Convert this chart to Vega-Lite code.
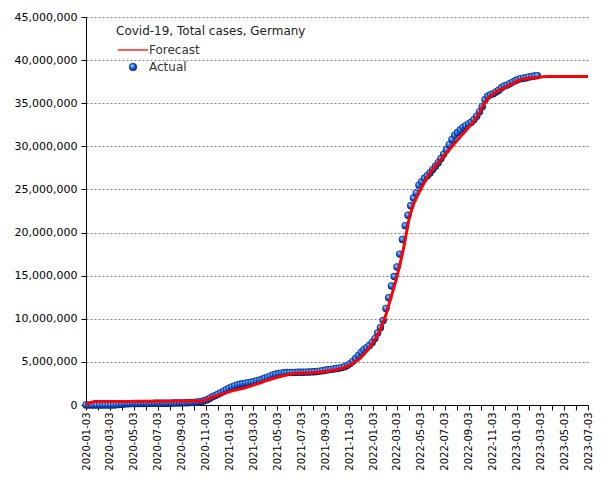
{
  "$schema": "https://vega.github.io/schema/vega-lite/v6.json",
  "width": 502,
  "height": 388,
  "autosize": {"type": "none"},
  "padding": {"left": 86, "top": 17, "right": 17, "bottom": 75},
  "background": "white",
  "config": {
    "view": {"stroke": null},
    "font": "DejaVu Sans",
    "axisY": {"grid": true, "gridColor": "#808080", "gridDash": [2, 2], "gridWidth": 1, "gridOpacity": 1},
    "axisX": {"grid": false}
  },
  "data": {"values": [
    {"date": "2020/01/03", "series": "Actual", "value": 0},
    {"date": "2020/01/10", "series": "Actual", "value": 0},
    {"date": "2020/01/17", "series": "Actual", "value": 0},
    {"date": "2020/01/24", "series": "Actual", "value": 0},
    {"date": "2020/01/31", "series": "Actual", "value": 0},
    {"date": "2020/02/07", "series": "Actual", "value": 0},
    {"date": "2020/02/14", "series": "Actual", "value": 0},
    {"date": "2020/02/21", "series": "Actual", "value": 0},
    {"date": "2020/02/28", "series": "Actual", "value": 100},
    {"date": "2020/03/06", "series": "Actual", "value": 700},
    {"date": "2020/03/13", "series": "Actual", "value": 3600},
    {"date": "2020/03/20", "series": "Actual", "value": 19000},
    {"date": "2020/03/27", "series": "Actual", "value": 50000},
    {"date": "2020/04/03", "series": "Actual", "value": 90000},
    {"date": "2020/04/10", "series": "Actual", "value": 120000},
    {"date": "2020/04/17", "series": "Actual", "value": 140000},
    {"date": "2020/04/24", "series": "Actual", "value": 155000},
    {"date": "2020/05/01", "series": "Actual", "value": 163000},
    {"date": "2020/05/08", "series": "Actual", "value": 170000},
    {"date": "2020/05/15", "series": "Actual", "value": 175000},
    {"date": "2020/05/22", "series": "Actual", "value": 179000},
    {"date": "2020/05/29", "series": "Actual", "value": 182000},
    {"date": "2020/06/05", "series": "Actual", "value": 185000},
    {"date": "2020/06/12", "series": "Actual", "value": 187000},
    {"date": "2020/06/19", "series": "Actual", "value": 190000},
    {"date": "2020/06/26", "series": "Actual", "value": 194000},
    {"date": "2020/07/03", "series": "Actual", "value": 196000},
    {"date": "2020/07/10", "series": "Actual", "value": 199000},
    {"date": "2020/07/17", "series": "Actual", "value": 201000},
    {"date": "2020/07/24", "series": "Actual", "value": 205000},
    {"date": "2020/07/31", "series": "Actual", "value": 210000},
    {"date": "2020/08/07", "series": "Actual", "value": 216000},
    {"date": "2020/08/14", "series": "Actual", "value": 224000},
    {"date": "2020/08/21", "series": "Actual", "value": 232000},
    {"date": "2020/08/28", "series": "Actual", "value": 241000},
    {"date": "2020/09/04", "series": "Actual", "value": 248000},
    {"date": "2020/09/11", "series": "Actual", "value": 257000},
    {"date": "2020/09/18", "series": "Actual", "value": 268000},
    {"date": "2020/09/25", "series": "Actual", "value": 282000},
    {"date": "2020/10/02", "series": "Actual", "value": 296000},
    {"date": "2020/10/09", "series": "Actual", "value": 315000},
    {"date": "2020/10/16", "series": "Actual", "value": 350000},
    {"date": "2020/10/23", "series": "Actual", "value": 400000},
    {"date": "2020/10/30", "series": "Actual", "value": 490000},
    {"date": "2020/11/06", "series": "Actual", "value": 600000},
    {"date": "2020/11/13", "series": "Actual", "value": 780000},
    {"date": "2020/11/20", "series": "Actual", "value": 950000},
    {"date": "2020/11/27", "series": "Actual", "value": 1100000},
    {"date": "2020/12/04", "series": "Actual", "value": 1250000},
    {"date": "2020/12/11", "series": "Actual", "value": 1420000},
    {"date": "2020/12/18", "series": "Actual", "value": 1600000},
    {"date": "2020/12/25", "series": "Actual", "value": 1780000},
    {"date": "2021/01/01", "series": "Actual", "value": 1950000},
    {"date": "2021/01/08", "series": "Actual", "value": 2100000},
    {"date": "2021/01/15", "series": "Actual", "value": 2220000},
    {"date": "2021/01/22", "series": "Actual", "value": 2320000},
    {"date": "2021/01/29", "series": "Actual", "value": 2400000},
    {"date": "2021/02/05", "series": "Actual", "value": 2470000},
    {"date": "2021/02/12", "series": "Actual", "value": 2530000},
    {"date": "2021/02/19", "series": "Actual", "value": 2580000},
    {"date": "2021/02/26", "series": "Actual", "value": 2640000},
    {"date": "2021/03/05", "series": "Actual", "value": 2700000},
    {"date": "2021/03/12", "series": "Actual", "value": 2780000},
    {"date": "2021/03/19", "series": "Actual", "value": 2880000},
    {"date": "2021/03/26", "series": "Actual", "value": 2980000},
    {"date": "2021/04/02", "series": "Actual", "value": 3100000},
    {"date": "2021/04/09", "series": "Actual", "value": 3220000},
    {"date": "2021/04/16", "series": "Actual", "value": 3350000},
    {"date": "2021/04/23", "series": "Actual", "value": 3470000},
    {"date": "2021/04/30", "series": "Actual", "value": 3570000},
    {"date": "2021/05/07", "series": "Actual", "value": 3650000},
    {"date": "2021/05/14", "series": "Actual", "value": 3700000},
    {"date": "2021/05/21", "series": "Actual", "value": 3740000},
    {"date": "2021/05/28", "series": "Actual", "value": 3760000},
    {"date": "2021/06/04", "series": "Actual", "value": 3770000},
    {"date": "2021/06/11", "series": "Actual", "value": 3780000},
    {"date": "2021/06/18", "series": "Actual", "value": 3780000},
    {"date": "2021/06/25", "series": "Actual", "value": 3790000},
    {"date": "2021/07/02", "series": "Actual", "value": 3790000},
    {"date": "2021/07/09", "series": "Actual", "value": 3800000},
    {"date": "2021/07/16", "series": "Actual", "value": 3810000},
    {"date": "2021/07/23", "series": "Actual", "value": 3820000},
    {"date": "2021/07/30", "series": "Actual", "value": 3840000},
    {"date": "2021/08/06", "series": "Actual", "value": 3860000},
    {"date": "2021/08/13", "series": "Actual", "value": 3890000},
    {"date": "2021/08/20", "series": "Actual", "value": 3930000},
    {"date": "2021/08/27", "series": "Actual", "value": 3980000},
    {"date": "2021/09/03", "series": "Actual", "value": 4030000},
    {"date": "2021/09/10", "series": "Actual", "value": 4080000},
    {"date": "2021/09/17", "series": "Actual", "value": 4130000},
    {"date": "2021/09/24", "series": "Actual", "value": 4180000},
    {"date": "2021/10/01", "series": "Actual", "value": 4230000},
    {"date": "2021/10/08", "series": "Actual", "value": 4280000},
    {"date": "2021/10/15", "series": "Actual", "value": 4350000},
    {"date": "2021/10/22", "series": "Actual", "value": 4450000},
    {"date": "2021/10/29", "series": "Actual", "value": 4600000},
    {"date": "2021/11/05", "series": "Actual", "value": 4800000},
    {"date": "2021/11/12", "series": "Actual", "value": 5080000},
    {"date": "2021/11/19", "series": "Actual", "value": 5400000},
    {"date": "2021/11/26", "series": "Actual", "value": 5750000},
    {"date": "2021/12/03", "series": "Actual", "value": 6100000},
    {"date": "2021/12/10", "series": "Actual", "value": 6400000},
    {"date": "2021/12/17", "series": "Actual", "value": 6650000},
    {"date": "2021/12/24", "series": "Actual", "value": 6900000},
    {"date": "2021/12/31", "series": "Actual", "value": 7250000},
    {"date": "2022/01/07", "series": "Actual", "value": 7700000},
    {"date": "2022/01/14", "series": "Actual", "value": 8350000},
    {"date": "2022/01/21", "series": "Actual", "value": 8950000},
    {"date": "2022/01/28", "series": "Actual", "value": 9800000},
    {"date": "2022/02/04", "series": "Actual", "value": 11200000},
    {"date": "2022/02/11", "series": "Actual", "value": 12450000},
    {"date": "2022/02/18", "series": "Actual", "value": 13800000},
    {"date": "2022/02/25", "series": "Actual", "value": 14900000},
    {"date": "2022/03/04", "series": "Actual", "value": 16000000},
    {"date": "2022/03/11", "series": "Actual", "value": 17500000},
    {"date": "2022/03/18", "series": "Actual", "value": 19200000},
    {"date": "2022/03/25", "series": "Actual", "value": 20800000},
    {"date": "2022/04/01", "series": "Actual", "value": 22000000},
    {"date": "2022/04/08", "series": "Actual", "value": 23100000},
    {"date": "2022/04/15", "series": "Actual", "value": 24000000},
    {"date": "2022/04/22", "series": "Actual", "value": 24600000},
    {"date": "2022/04/29", "series": "Actual", "value": 25500000},
    {"date": "2022/05/06", "series": "Actual", "value": 25900000},
    {"date": "2022/05/13", "series": "Actual", "value": 26300000},
    {"date": "2022/05/20", "series": "Actual", "value": 26600000},
    {"date": "2022/05/27", "series": "Actual", "value": 26900000},
    {"date": "2022/06/03", "series": "Actual", "value": 27300000},
    {"date": "2022/06/10", "series": "Actual", "value": 27700000},
    {"date": "2022/06/17", "series": "Actual", "value": 28100000},
    {"date": "2022/06/24", "series": "Actual", "value": 28600000},
    {"date": "2022/07/01", "series": "Actual", "value": 29100000},
    {"date": "2022/07/08", "series": "Actual", "value": 29600000},
    {"date": "2022/07/15", "series": "Actual", "value": 30200000},
    {"date": "2022/07/22", "series": "Actual", "value": 30800000},
    {"date": "2022/07/29", "series": "Actual", "value": 31300000},
    {"date": "2022/08/05", "series": "Actual", "value": 31600000},
    {"date": "2022/08/12", "series": "Actual", "value": 31900000},
    {"date": "2022/08/19", "series": "Actual", "value": 32200000},
    {"date": "2022/08/26", "series": "Actual", "value": 32400000},
    {"date": "2022/09/02", "series": "Actual", "value": 32600000},
    {"date": "2022/09/09", "series": "Actual", "value": 32800000},
    {"date": "2022/09/16", "series": "Actual", "value": 33100000},
    {"date": "2022/09/23", "series": "Actual", "value": 33500000},
    {"date": "2022/09/30", "series": "Actual", "value": 34000000},
    {"date": "2022/10/07", "series": "Actual", "value": 34600000},
    {"date": "2022/10/14", "series": "Actual", "value": 35400000},
    {"date": "2022/10/21", "series": "Actual", "value": 35800000},
    {"date": "2022/10/28", "series": "Actual", "value": 36000000},
    {"date": "2022/11/04", "series": "Actual", "value": 36100000},
    {"date": "2022/11/11", "series": "Actual", "value": 36300000},
    {"date": "2022/11/18", "series": "Actual", "value": 36500000},
    {"date": "2022/11/25", "series": "Actual", "value": 36800000},
    {"date": "2022/12/02", "series": "Actual", "value": 37000000},
    {"date": "2022/12/09", "series": "Actual", "value": 37100000},
    {"date": "2022/12/16", "series": "Actual", "value": 37250000},
    {"date": "2022/12/23", "series": "Actual", "value": 37450000},
    {"date": "2022/12/30", "series": "Actual", "value": 37600000},
    {"date": "2023/01/06", "series": "Actual", "value": 37750000},
    {"date": "2023/01/13", "series": "Actual", "value": 37850000},
    {"date": "2023/01/20", "series": "Actual", "value": 37900000},
    {"date": "2023/01/27", "series": "Actual", "value": 37950000},
    {"date": "2023/02/03", "series": "Actual", "value": 38050000},
    {"date": "2023/02/10", "series": "Actual", "value": 38100000},
    {"date": "2023/02/17", "series": "Actual", "value": 38150000},
    {"date": "2023/02/24", "series": "Actual", "value": 38200000},
    {"date": "2020/01/03", "series": "Forecast", "value": 0},
    {"date": "2020/01/26", "series": "Forecast", "value": 400000},
    {"date": "2020/10/19", "series": "Forecast", "value": 450000},
    {"date": "2020/11/22", "series": "Forecast", "value": 960000},
    {"date": "2021/01/03", "series": "Forecast", "value": 1550000},
    {"date": "2021/02/15", "series": "Forecast", "value": 2050000},
    {"date": "2021/03/29", "series": "Forecast", "value": 2700000},
    {"date": "2021/05/11", "series": "Forecast", "value": 3300000},
    {"date": "2021/06/22", "series": "Forecast", "value": 3670000},
    {"date": "2021/08/03", "series": "Forecast", "value": 3750000},
    {"date": "2021/09/15", "series": "Forecast", "value": 3980000},
    {"date": "2021/10/27", "series": "Forecast", "value": 4450000},
    {"date": "2021/11/30", "series": "Forecast", "value": 5400000},
    {"date": "2021/12/26", "series": "Forecast", "value": 6770000},
    {"date": "2022/01/16", "series": "Forecast", "value": 8300000},
    {"date": "2022/02/02", "series": "Forecast", "value": 10200000},
    {"date": "2022/02/15", "series": "Forecast", "value": 12200000},
    {"date": "2022/03/04", "series": "Forecast", "value": 14900000},
    {"date": "2022/03/20", "series": "Forecast", "value": 18000000},
    {"date": "2022/04/06", "series": "Forecast", "value": 22000000},
    {"date": "2022/05/02", "series": "Forecast", "value": 24900000},
    {"date": "2022/05/27", "series": "Forecast", "value": 26900000},
    {"date": "2022/06/30", "series": "Forecast", "value": 28800000},
    {"date": "2022/08/12", "series": "Forecast", "value": 31100000},
    {"date": "2022/09/23", "series": "Forecast", "value": 33400000},
    {"date": "2022/10/19", "series": "Forecast", "value": 35400000},
    {"date": "2022/11/13", "series": "Forecast", "value": 36350000},
    {"date": "2022/12/17", "series": "Forecast", "value": 37100000},
    {"date": "2023/01/11", "series": "Forecast", "value": 37700000},
    {"date": "2023/02/23", "series": "Forecast", "value": 38000000},
    {"date": "2023/03/20", "series": "Forecast", "value": 38100000},
    {"date": "2023/07/03", "series": "Forecast", "value": 38100000}
  ]},
  "encoding": {
    "x": {
      "field": "date", "type": "temporal",
      "scale": {"domain": [{"year": 2020, "month": 1, "date": 3}, {"year": 2023, "month": 7, "date": 3}]},
      "axis": {
        "title": null, "grid": false,
        "values": [
          {"year": 2020, "month": 1, "date": 3}, {"year": 2020, "month": 2, "date": 3}, {"year": 2020, "month": 3, "date": 3}, {"year": 2020, "month": 4, "date": 3}, {"year": 2020, "month": 5, "date": 3}, {"year": 2020, "month": 6, "date": 3}, {"year": 2020, "month": 7, "date": 3}, {"year": 2020, "month": 8, "date": 3}, {"year": 2020, "month": 9, "date": 3}, {"year": 2020, "month": 10, "date": 3}, {"year": 2020, "month": 11, "date": 3}, {"year": 2020, "month": 12, "date": 3},
          {"year": 2021, "month": 1, "date": 3}, {"year": 2021, "month": 2, "date": 3}, {"year": 2021, "month": 3, "date": 3}, {"year": 2021, "month": 4, "date": 3}, {"year": 2021, "month": 5, "date": 3}, {"year": 2021, "month": 6, "date": 3}, {"year": 2021, "month": 7, "date": 3}, {"year": 2021, "month": 8, "date": 3}, {"year": 2021, "month": 9, "date": 3}, {"year": 2021, "month": 10, "date": 3}, {"year": 2021, "month": 11, "date": 3}, {"year": 2021, "month": 12, "date": 3},
          {"year": 2022, "month": 1, "date": 3}, {"year": 2022, "month": 2, "date": 3}, {"year": 2022, "month": 3, "date": 3}, {"year": 2022, "month": 4, "date": 3}, {"year": 2022, "month": 5, "date": 3}, {"year": 2022, "month": 6, "date": 3}, {"year": 2022, "month": 7, "date": 3}, {"year": 2022, "month": 8, "date": 3}, {"year": 2022, "month": 9, "date": 3}, {"year": 2022, "month": 10, "date": 3}, {"year": 2022, "month": 11, "date": 3}, {"year": 2022, "month": 12, "date": 3},
          {"year": 2023, "month": 1, "date": 3}, {"year": 2023, "month": 2, "date": 3}, {"year": 2023, "month": 3, "date": 3}, {"year": 2023, "month": 4, "date": 3}, {"year": 2023, "month": 5, "date": 3}, {"year": 2023, "month": 6, "date": 3}, {"year": 2023, "month": 7, "date": 3}
        ],
        "labelExpr": "month(datum.value) % 2 == 0 ? timeFormat(datum.value, '%Y-%m-%d') : ''",
        "labelAngle": -90, "labelFontSize": 10, "labelColor": "#000", "labelFont": "DejaVu Sans",
        "labelOverlap": false, "labelBound": false, "labelFlush": false, "labelPadding": 2,
        "tickSize": 5, "tickColor": "#000", "domainColor": "#000"
      }
    },
    "y": {
      "field": "value", "type": "quantitative",
      "scale": {"domain": [0, 45000000], "nice": false},
      "axis": {
        "title": null,
        "values": [0, 5000000, 10000000, 15000000, 20000000, 25000000, 30000000, 35000000, 40000000, 45000000],
        "format": ",d", "labelFontSize": 11, "labelColor": "#000", "labelFont": "DejaVu Sans", "labelPadding": 4,
        "tickSize": 5, "tickColor": "#000", "domainColor": "#000",
        "grid": true, "gridColor": "#808080", "gridDash": [2, 2], "gridWidth": 1
      }
    }
  },
  "layer": [
    {
      "transform": [{"filter": "datum.series === 'Actual'"}],
      "mark": {
        "type": "point", "filled": true, "size": 55, "opacity": 1, "strokeWidth": 0, "clip": false,
        "fill": {"gradient": "radial", "x1": 0.35, "y1": 0.3, "r1": 0, "x2": 0.5, "y2": 0.5, "r2": 0.55,
          "stops": [{"offset": 0, "color": "#d0f0ff"}, {"offset": 0.25, "color": "#4aa8ff"}, {"offset": 0.6, "color": "#1450d8"}, {"offset": 1, "color": "#00103a"}]}
      },
      "encoding": {
        "shape": {
          "field": "series", "type": "nominal",
          "scale": {"domain": ["Actual"], "range": ["circle"]},
          "legend": {
            "orient": "none", "legendX": 30, "legendY": 44,
            "title": null,
            "labelFontSize": 12, "labelColor": "#333", "labelFont": "DejaVu Sans",
            "symbolSize": 64, "symbolOffset": 11, "labelOffset": 10, "padding": 0
          }
        }
      }
    },
    {
      "transform": [{"filter": "datum.series === 'Forecast'"}],
      "mark": {"type": "line", "strokeWidth": 3, "interpolate": "monotone", "clip": false},
      "encoding": {
        "color": {
          "datum": "Forecast", "type": "nominal",
          "scale": {"domain": ["Forecast"], "range": ["#ff0000"]},
          "legend": {
            "orient": "none", "legendX": 30, "legendY": 9,
            "title": "Covid-19, Total cases, Germany",
            "titleFontSize": 12, "titleFontWeight": "normal", "titleColor": "#222", "titleFont": "DejaVu Sans", "titleLimit": 400, "titlePadding": 6,
            "labelFontSize": 12, "labelColor": "#333", "labelFont": "DejaVu Sans",
            "symbolType": "M-3.75,0L3.75,0", "symbolSize": 64, "symbolStrokeWidth": 1.3,
            "symbolOffset": 11, "labelOffset": 10, "padding": 0
          }
        }
      }
    }
  ]
}
